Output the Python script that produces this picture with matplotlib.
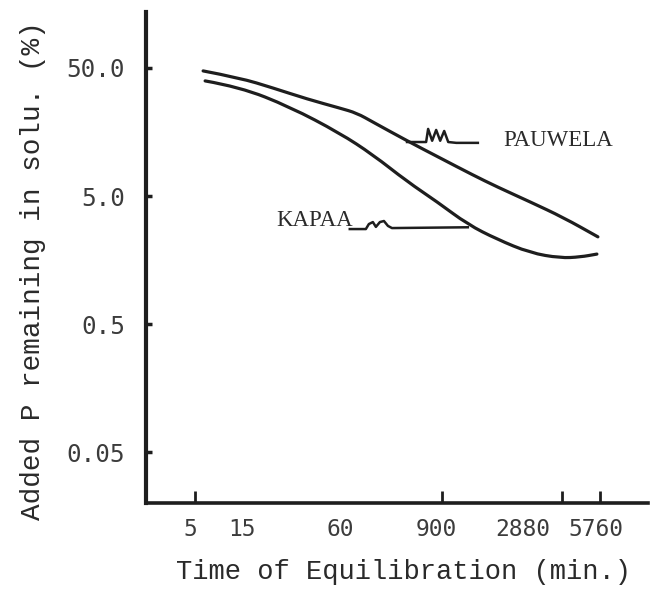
import numpy as np
import matplotlib
matplotlib.use('Agg')
import matplotlib.pyplot as plt
import matplotlib.ticker as mticker
from matplotlib.path import Path
from matplotlib.patches import PathPatch

# time labels on the x axis and where the typed labels / pen ticks sit
time_labels = ['5', '15', '60', '900', '2880', '5760']
label_pos = [8.8, 19.1, 38.8, 57.8, 75.1, 89.6]
tick_pos = [9.8, 19.1, 38.8, 59.0, 82.9, 90.4]

# y ticks (% remaining, log scale)
y_ticks = [0.05, 0.5, 5.0, 50.0]
y_tick_labels = ['0.05', '0.5', '5.0', '50.0']

# PAUWELA curve
pauwela_x = [11.4, 18.7, 25.3, 32.1, 38.6, 42.0, 45.2, 52.0, 58.6, 65.1, 69.9, 76.5, 83.1, 90.0]
pauwela_y = [47.4, 41.8, 34.9, 28.6, 24.3, 22.2, 18.9, 13.5, 9.9, 7.3, 5.9, 4.5, 3.4, 2.4]

# KAPAA curve
kapaa_x = [11.8, 18.7, 28.7, 38.6, 45.2, 52.0, 58.0, 64.1, 69.9, 76.5, 82.5, 86.5, 89.8]
kapaa_y = [39.6, 35.5, 24.8, 15.5, 10.5, 6.5, 4.5, 3.0, 2.3, 1.8, 1.64, 1.67, 1.76]

# hand-drawn leader lines from the labels to the curves
pauwela_lead_x = [52.0, 55.8, 56.2, 57.0, 57.8, 58.6, 59.4, 60.2, 61.8, 66.1]
pauwela_lead_y = [13.2, 13.2, 16.7, 13.5, 16.4, 13.5, 16.1, 13.2, 13.0, 13.0]
kapaa_lead_x = [40.6, 43.8, 44.4, 45.2, 45.8, 46.6, 47.4, 48.2, 49.0, 64.1]
kapaa_lead_y = [2.76, 2.76, 3.02, 3.13, 2.87, 3.13, 3.19, 2.92, 2.81, 2.85]

ink = '#1e1e1e'
type_font = ['Liberation Mono', 'DejaVu Sans Mono']


def pen_curve(xs, ys):
    # quadratic bezier through the midpoints, so the pen line comes out smooth
    verts = [(xs[0], ys[0])]
    codes = [Path.MOVETO]
    for i in range(1, len(xs) - 1):
        mx = (xs[i] + xs[i + 1]) / 2
        my = np.sqrt(ys[i] * ys[i + 1])
        verts += [(xs[i], ys[i]), (mx, my)]
        codes += [Path.CURVE3, Path.CURVE3]
    verts.append((xs[-1], ys[-1]))
    codes.append(Path.LINETO)
    return Path(verts, codes)


fig = plt.figure(figsize=(6.6, 5.94), dpi=100)
ax = fig.add_axes([0.221, 0.153, 0.761, 0.827])

for xs, ys in [(pauwela_x, pauwela_y), (kapaa_x, kapaa_y)]:
    ax.add_patch(PathPatch(pen_curve(xs, ys), fill=False, edgecolor=ink,
                           lw=2.3, capstyle='round'))
ax.plot(pauwela_lead_x, pauwela_lead_y, color=ink, lw=1.8,
        solid_joinstyle='round')
ax.plot(kapaa_lead_x, kapaa_lead_y, color=ink, lw=1.8,
        solid_joinstyle='round')

ax.text(82.1, 13.5, 'PAUWELA', family='Liberation Serif', fontsize=16.5,
        color='#2a2a2a', ha='center', va='center')
ax.text(41.2, 3.2, 'KAPAA', family='Liberation Serif', fontsize=16.5,
        color='#2a2a2a', ha='right', va='center')

ax.set_yscale('log')
ax.set_ylim(0.02, 137)
ax.set_xlim(0, 100)

ax.yaxis.set_major_locator(mticker.FixedLocator(y_ticks))
ax.yaxis.set_major_formatter(mticker.FixedFormatter(y_tick_labels))
ax.yaxis.set_minor_locator(mticker.NullLocator())
ax.tick_params(axis='y', direction='in', length=4, width=2.5, color=ink,
               pad=15, labelsize=17.5, labelcolor='#3c3c3c')

# labels typed under the axis, pen ticks drawn separately
ax.xaxis.set_major_locator(mticker.FixedLocator(label_pos))
ax.xaxis.set_major_formatter(mticker.FixedFormatter(time_labels))
ax.xaxis.set_minor_locator(mticker.FixedLocator(tick_pos))
ax.tick_params(axis='x', which='major', length=0, pad=11, labelsize=16.5,
               labelcolor='#3c3c3c')
ax.tick_params(axis='x', which='minor', direction='in', length=9, width=2,
               color=ink)
for lab in ax.get_xticklabels() + ax.get_yticklabels():
    lab.set_family('DejaVu Sans Mono')

for side in ['top', 'right']:
    ax.spines[side].set_visible(False)
ax.spines['left'].set_linewidth(3)
ax.spines['bottom'].set_linewidth(2.6)
ax.spines['left'].set_color(ink)
ax.spines['bottom'].set_color(ink)

fig.text(0.612, 0.037, 'Time of Equilibration (min.)', family=type_font,
         fontsize=19.5, color='#2a2a2a', ha='center', va='center')
fig.text(0.05, 0.544, 'Added P remaining in solu. (%)', family=type_font,
         fontsize=20, color='#2a2a2a', ha='center', va='center',
         rotation=90)

fig.savefig('out.png', dpi=100)
